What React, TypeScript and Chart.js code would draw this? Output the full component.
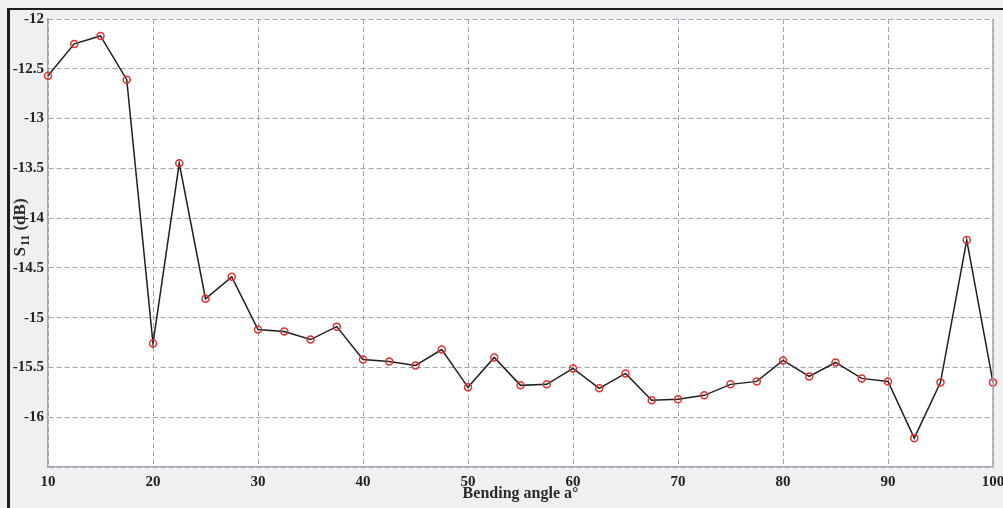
import React, { useEffect, useRef } from "react";
import { Chart, registerables } from "chart.js";

Chart.register(...registerables);

const angles: number[] = [
  10, 12.5, 15, 17.5, 20, 22.5, 25, 27.5, 30, 32.5, 35, 37.5, 40, 42.5, 45, 47.5, 50, 52.5, 55,
  57.5, 60, 62.5, 65, 67.5, 70, 72.5, 75, 77.5, 80, 82.5, 85, 87.5, 90, 92.5, 95, 97.5, 100,
];
const s11: number[] = [
  -12.57, -12.25, -12.17, -12.61, -15.26, -13.45, -14.81, -14.59, -15.12, -15.14, -15.22, -15.09,
  -15.42, -15.44, -15.48, -15.32, -15.7, -15.4, -15.68, -15.67, -15.51, -15.71, -15.56, -15.83,
  -15.82, -15.78, -15.67, -15.64, -15.43, -15.59, -15.45, -15.61, -15.64, -16.21, -15.65, -14.22,
  -15.65,
];
const xTicks: number[] = [10, 20, 30, 40, 50, 60, 70, 80, 90, 100];
const yTicks: number[] = [-12, -12.5, -13, -13.5, -14, -14.5, -15, -15.5, -16];
const xTitle = "Bending angle a°";
const yTitleMain = "S";
const yTitleSub = "11";
const yTitleTail = " (dB)";

const FONT = "'Liberation Serif', 'Times New Roman', serif";

const framePlugin = {
  id: "frame",
  beforeDraw(chart: any) {
    const { ctx, chartArea } = chart;
    ctx.save();
    ctx.fillStyle = "#eef0f2";
    ctx.fillRect(0, 0, chart.width, chart.height);
    ctx.fillStyle = "#ffffff";
    ctx.fillRect(chartArea.left, chartArea.top, chartArea.right - chartArea.left, chartArea.bottom - chartArea.top);
    ctx.restore();
  },
  afterDraw(chart: any) {
    const { ctx, chartArea } = chart;
    ctx.save();
    ctx.fillStyle = "#1e1e1e";
    ctx.fillRect(8, 8, chart.width - 8, 2);
    ctx.fillRect(7, 8, 3, chart.height - 8);
    ctx.strokeStyle = "#a3a7ad";
    ctx.lineWidth = 1.5;
    ctx.beginPath();
    ctx.moveTo(chartArea.right, chartArea.top);
    ctx.lineTo(chartArea.right, chartArea.bottom);
    ctx.stroke();
    ctx.fillStyle = "#2a2a2a";
    ctx.font = `bold 16px ${FONT}`;
    ctx.textAlign = "center";
    ctx.textBaseline = "middle";
    ctx.fillText(xTitle, (chartArea.left + chartArea.right) / 2, 494);
    ctx.translate(20, 228);
    ctx.rotate(-Math.PI / 2);
    const mainFont = `bold 17px ${FONT}`;
    const subFont = `bold 12px ${FONT}`;
    ctx.font = mainFont;
    const w1 = ctx.measureText(yTitleMain).width;
    const w3 = ctx.measureText(yTitleTail).width;
    ctx.font = subFont;
    const w2 = ctx.measureText(yTitleSub).width;
    let x = -(w1 + w2 + w3) / 2;
    ctx.textAlign = "left";
    ctx.textBaseline = "alphabetic";
    ctx.font = mainFont;
    ctx.fillText(yTitleMain, x, 5);
    x += w1;
    ctx.font = subFont;
    ctx.fillText(yTitleSub, x + 1, 9);
    x += w2 + 1;
    ctx.font = mainFont;
    ctx.fillText(yTitleTail, x, 5);
    ctx.restore();
  },
};

export default function App() {
  const ref = useRef<HTMLCanvasElement | null>(null);

  useEffect(() => {
    document.body.style.margin = "0";
    if (!ref.current) return;
    const chart = new Chart(ref.current, {
      type: "line",
      data: {
        datasets: [
          {
            data: angles.map((a, i) => ({ x: a, y: s11[i] })),
            borderColor: "#1f1f1f",
            borderWidth: 1.5,
            pointRadius: 3.5,
            pointBorderColor: "#e2312c",
            pointBorderWidth: 1.5,
            pointBackgroundColor: "rgba(255,255,255,0)",
            tension: 0,
            clip: false as any,
          },
        ],
      },
      options: {
        animation: false,
        responsive: false,
        maintainAspectRatio: false,
        layout: { padding: { left: 0, top: 19, right: 10, bottom: 0 } },
        plugins: { legend: { display: false }, tooltip: { enabled: false } },
        scales: {
          x: {
            type: "linear",
            min: 10,
            max: 100,
            afterBuildTicks(scale: any) {
              scale.ticks = xTicks.map((v) => ({ value: v }));
            },
            afterFit(scale: any) {
              scale.height = 41;
              scale.paddingLeft = 0;
              scale.paddingRight = 0;
            },
            grid: { color: "#9fa5ae", lineWidth: 1, drawTicks: false },
            border: { display: true, color: "#a3a7ad", width: 1.5, dash: [5, 3] },
            ticks: {
              padding: 6,
              color: "#222",
              font: { family: FONT, size: 15, weight: "bold" },
              maxRotation: 0,
              autoSkip: false,
              callback: (v: any) => String(v),
            },
          },
          y: {
            type: "linear",
            min: -16.5,
            max: -12,
            afterBuildTicks(scale: any) {
              scale.ticks = [-16.5, ...yTicks.slice().reverse()].map((v) => ({ value: v }));
            },
            afterFit(scale: any) {
              scale.width = 48;
              scale.paddingTop = 0;
              scale.paddingBottom = 0;
            },
            grid: { color: "#9fa5ae", lineWidth: 1, drawTicks: false },
            border: { display: true, color: "#a3a7ad", width: 1.5, dash: [5, 3] },
            ticks: {
              padding: 4,
              color: "#222",
              font: { family: FONT, size: 15, weight: "bold" },
              autoSkip: false,
              callback: (v: any) => (yTicks.includes(Number(v)) ? String(v) : ""),
            },
          },
        },
      },
      plugins: [framePlugin],
    });
    return () => chart.destroy();
  }, []);

  return (
    <div style={{ position: "absolute", left: 0, top: 0, width: 1003, height: 508 }}>
      <canvas ref={ref} width={1003} height={508} style={{ width: 1003, height: 508 }} />
    </div>
  );
}
